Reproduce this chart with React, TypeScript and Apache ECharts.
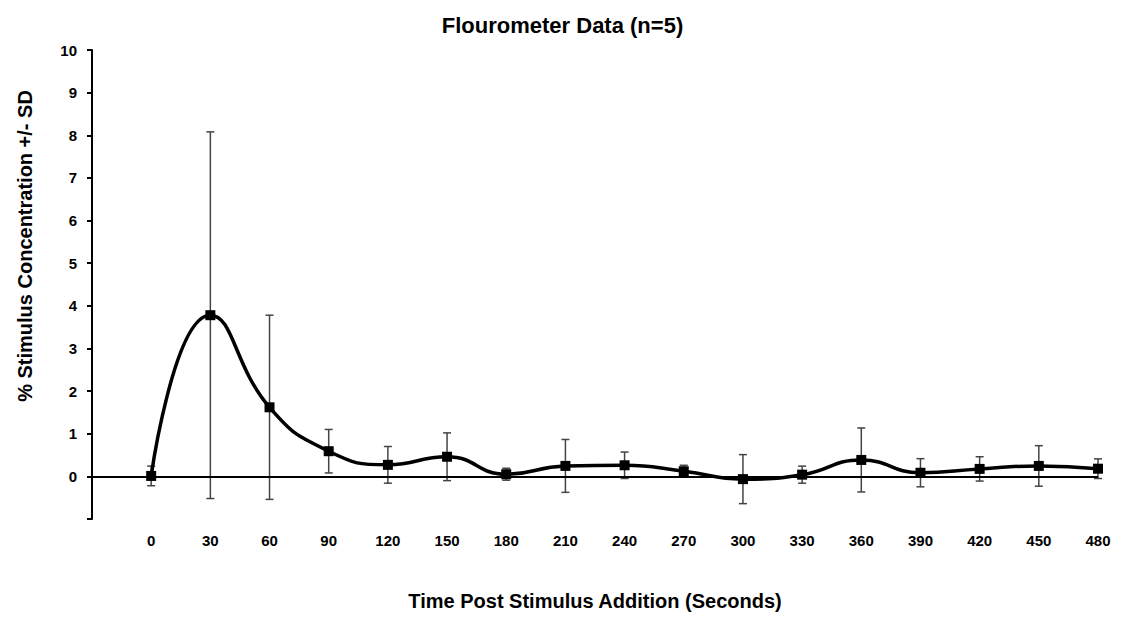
import React, { useEffect, useRef } from "react";
import * as echarts from "echarts";

const times = [0, 30, 60, 90, 120, 150, 180, 210, 240, 270, 300, 330, 360, 390, 420, 450, 480];
const means = [0.01, 3.78, 1.62, 0.59, 0.27, 0.46, 0.05, 0.245, 0.26, 0.12, -0.065, 0.04, 0.385, 0.085, 0.175, 0.245, 0.18];
const sds = [0.23, 4.3, 2.16, 0.51, 0.43, 0.56, 0.14, 0.62, 0.31, 0.14, 0.575, 0.2, 0.75, 0.33, 0.285, 0.475, 0.23];
const yTicks = [-1, 0, 1, 2, 3, 4, 5, 6, 7, 8, 9, 10];

const FONT = "'Liberation Sans', Arial, sans-serif";

export default function App() {
  const ref = useRef<HTMLDivElement>(null);
  useEffect(() => {
    if (!ref.current) return;
    const chart = echarts.init(ref.current, null, { renderer: "svg" });
    const lineData = times.map((t, i) => [t, means[i]]);
    const errData = times.map((t, i) => [t, means[i] - sds[i], means[i] + sds[i]]);
    chart.setOption({
      animation: false,
      backgroundColor: "#ffffff",
      title: {
        text: "Flourometer Data (n=5)",
        left: "center",
        top: 9,
        textStyle: { fontFamily: FONT, fontWeight: "bold", fontSize: 22, color: "#000" },
      },
      graphic: [
        {
          type: "text",
          x: 25,
          y: 246,
          rotation: Math.PI / 2,
          style: {
            text: "% Stimulus Concentration +/- SD",
            fontFamily: FONT,
            fontWeight: "bold",
            fontSize: 20,
            fill: "#000",
            align: "center",
            verticalAlign: "middle",
          },
        },
      ],
      grid: { left: 92, right: 27, top: 50, bottom: 100, containLabel: false },
      xAxis: {
        type: "value",
        min: -30,
        max: 480,
        interval: 30,
        name: "Time Post Stimulus Addition (Seconds)",
        nameLocation: "middle",
        nameGap: 72,
        nameTextStyle: { fontFamily: FONT, fontWeight: "bold", fontSize: 20, color: "#000" },
        axisLine: { show: false, onZero: false },
        axisTick: { show: false },
        splitLine: { show: false },
        axisLabel: {
          margin: 14,
          fontFamily: FONT,
          fontWeight: "bold",
          fontSize: 15,
          color: "#000",
          formatter: (v: number) => (v < 0 ? "" : String(v)),
        },
      },
      yAxis: {
        type: "value",
        min: yTicks[0],
        max: yTicks[yTicks.length - 1],
        interval: 1,
        axisLine: { show: true, onZero: false, lineStyle: { color: "#000", width: 2 } },
        axisTick: { show: true, inside: false, length: 5, lineStyle: { color: "#000", width: 2 } },
        splitLine: { show: false },
        axisLabel: {
          margin: 15,
          fontFamily: FONT,
          fontWeight: "bold",
          fontSize: 15,
          color: "#000",
          formatter: (v: number) => (v < 0 ? "" : String(v)),
        },
      },
      series: [
        {
          type: "custom",
          name: "SD",
          silent: true,
          z: 1,
          data: errData,
          encode: { x: 0, y: [1, 2] },
          renderItem: (params: any, api: any) => {
            const x = api.value(0);
            const lo = api.coord([x, api.value(1)]);
            const hi = api.coord([x, api.value(2)]);
            const hw = 4;
            const style = { stroke: "#444444", lineWidth: 1.5 };
            return {
              type: "group",
              children: [
                { type: "line", shape: { x1: lo[0], y1: lo[1], x2: hi[0], y2: hi[1] }, style },
                { type: "line", shape: { x1: hi[0] - hw, y1: hi[1], x2: hi[0] + hw, y2: hi[1] }, style },
                { type: "line", shape: { x1: lo[0] - hw, y1: lo[1], x2: lo[0] + hw, y2: lo[1] }, style },
              ],
            };
          },
        },
        {
          type: "line",
          name: "Mean",
          data: lineData,
          smooth: 0.5,
          z: 3,
          symbol: "rect",
          symbolSize: 10,
          itemStyle: { color: "#000" },
          lineStyle: { color: "#000", width: 3.5 },
          markLine: {
            silent: true,
            symbol: "none",
            label: { show: false },
            lineStyle: { color: "#000", width: 2, type: "solid" },
            data: [{ yAxis: 0 }],
          },
        },
      ],
    });
    return () => chart.dispose();
  }, []);
  return <div ref={ref} style={{ position: "absolute", left: 0, top: 0, width: 1125, height: 619 }} />;
}
